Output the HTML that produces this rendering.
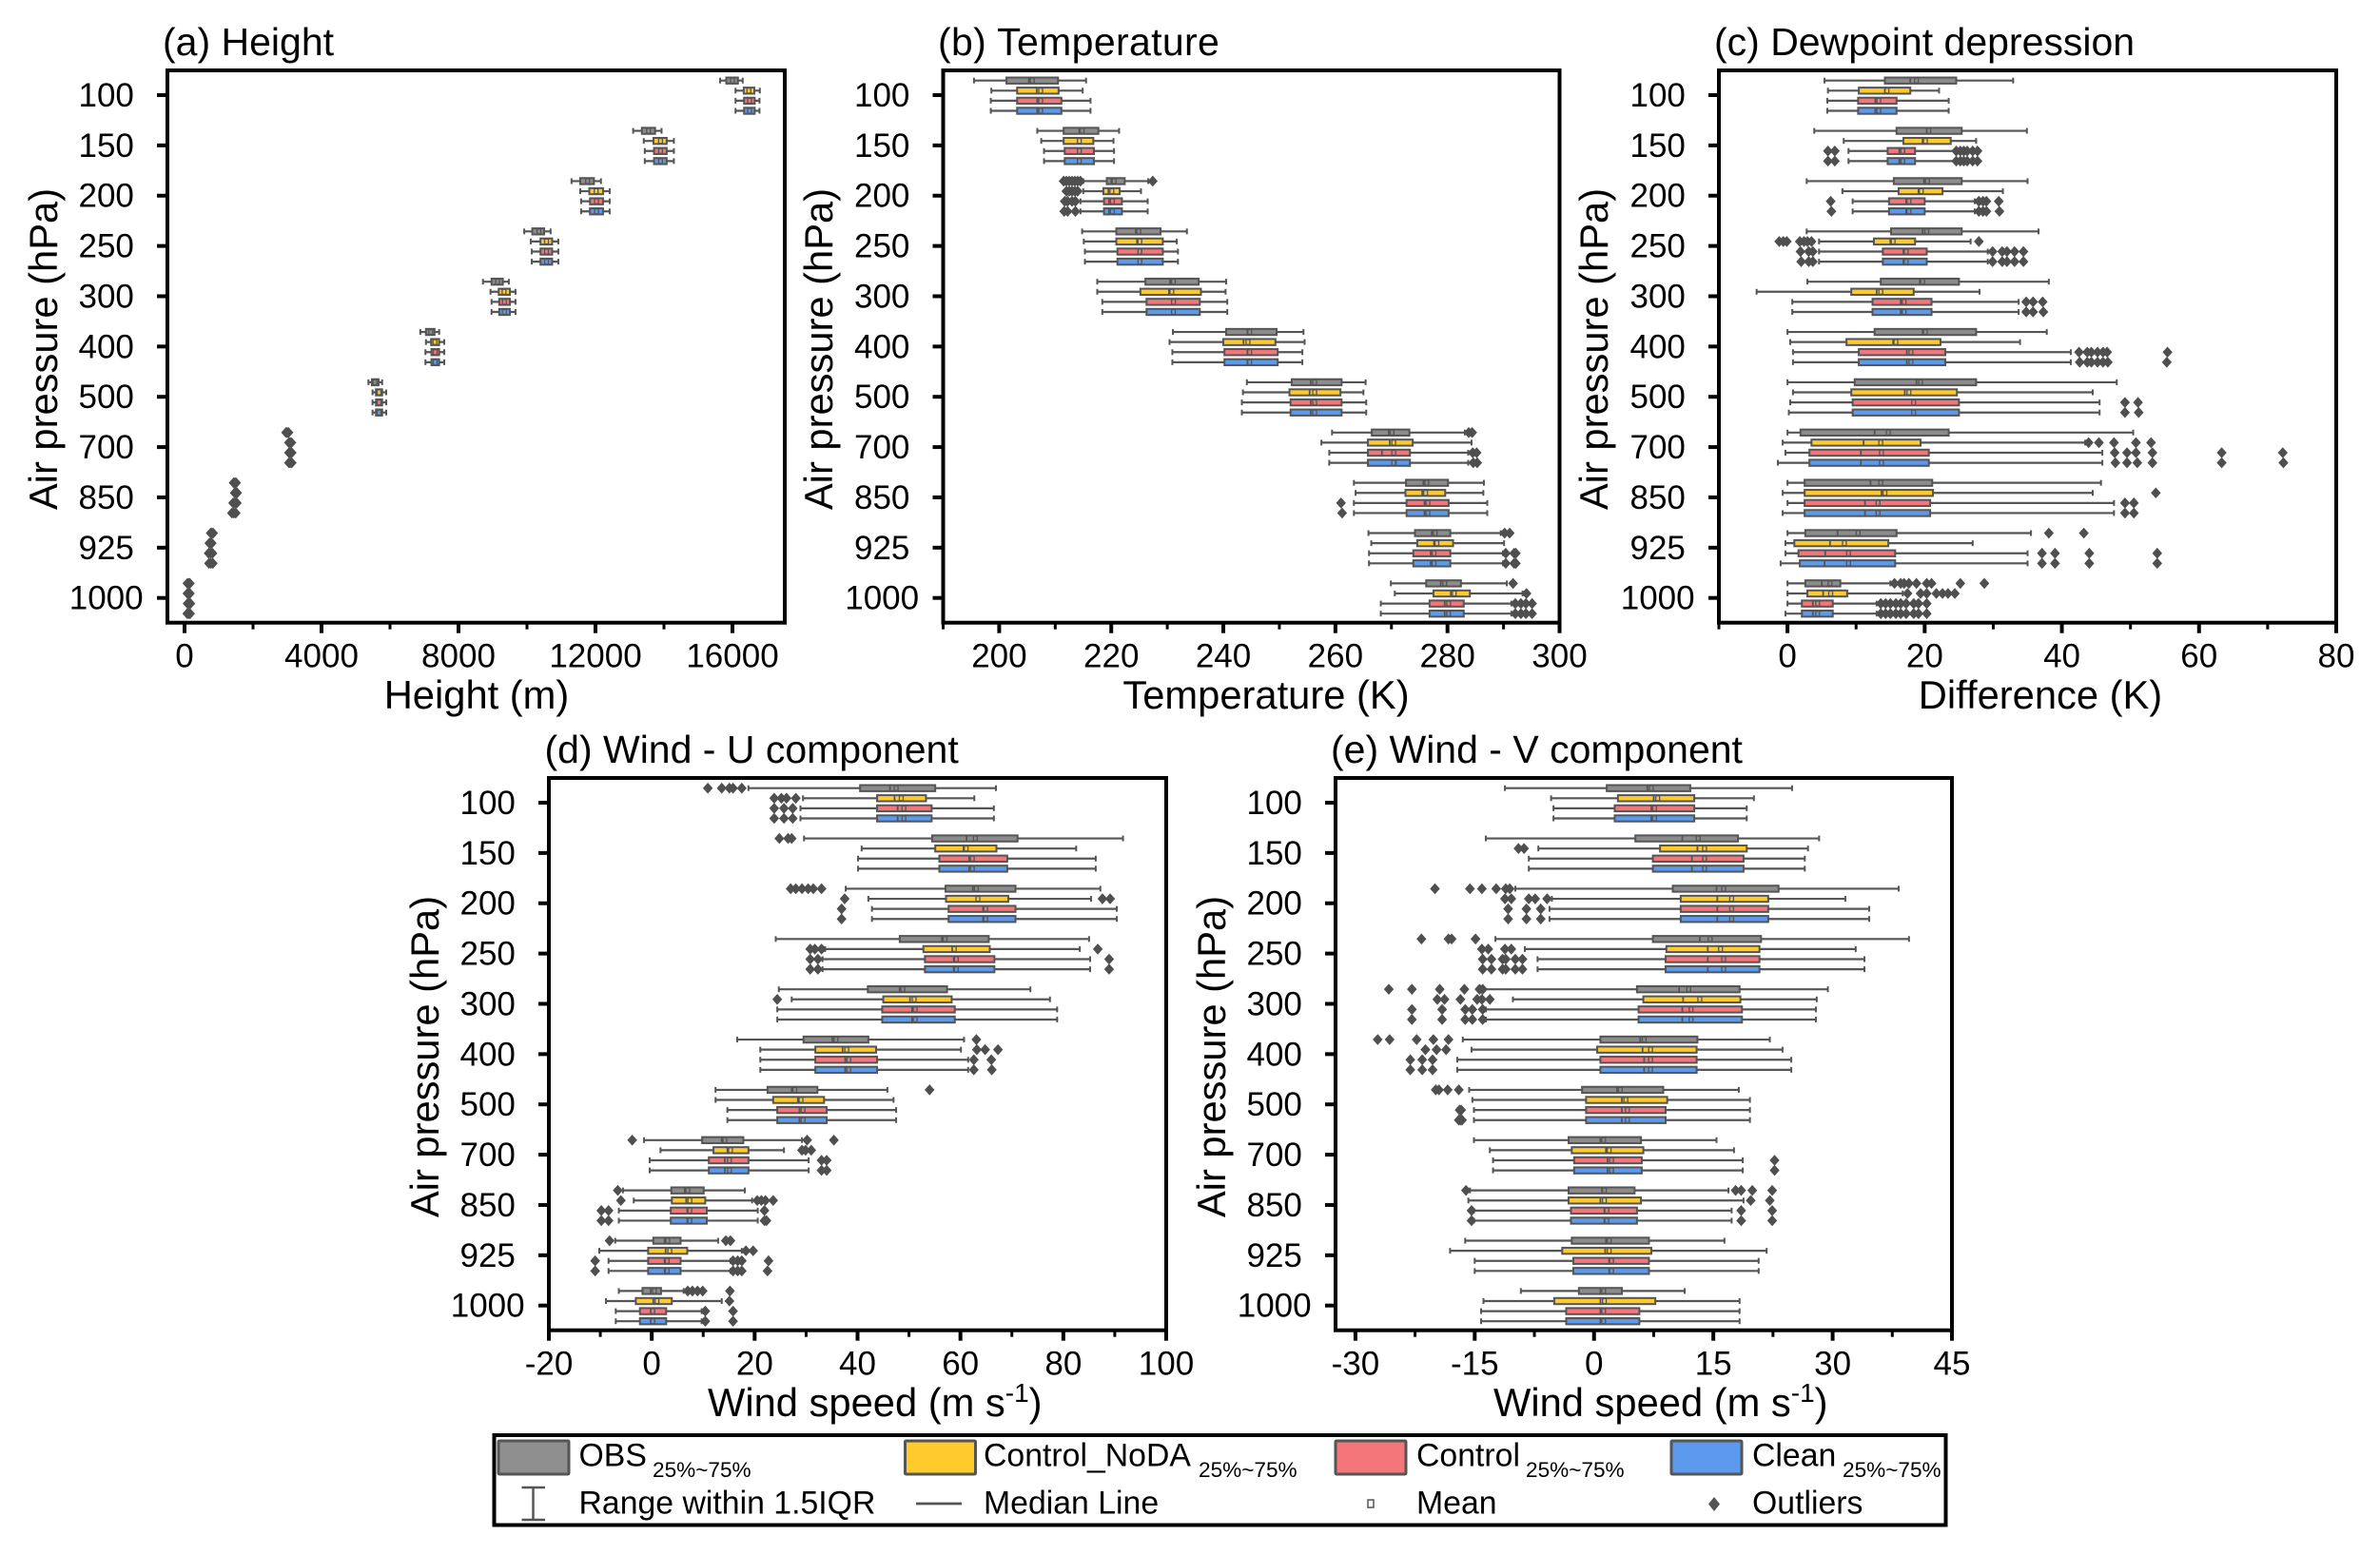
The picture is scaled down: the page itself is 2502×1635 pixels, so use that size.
<!DOCTYPE html>
<html lang="en">
<head>
<meta charset="utf-8">
<title>Sounding box plots</title>
<style>
html,body{margin:0;padding:0;background:#fff;width:2502px;height:1635px;overflow:hidden}
svg{display:block;font-family:"Liberation Sans",Arial,sans-serif;fill:#000}
.t{font-size:41px}
.a{font-size:41.7px}
.l{font-size:33.8px}
.s{font-size:22.6px}
</style>
</head>
<body>
<svg id="chart" xmlns="http://www.w3.org/2000/svg" width="2502" height="1635" viewBox="0 0 2502 1635">
  <rect x="0" y="0" width="2502" height="1635" fill="#fff"/>
  <text class="t" x="171" y="58">(a) Height</text>
  <text class="t" x="986" y="58" letter-spacing="0.35">(b) Temperature</text>
  <text class="t" x="1802" y="58">(c) Dewpoint depression</text>
  <text class="t" x="572.5" y="802">(d) Wind - U component</text>
  <text class="t" x="1399" y="802">(e) Wind - V component</text>

  <text class="a" x="501" y="745" text-anchor="middle">Height (m)</text>
  <text class="a" x="1331" y="745" text-anchor="middle">Temperature (K)</text>
  <text class="a" x="2145" y="745" text-anchor="middle">Difference (K)</text>
  <text class="a" x="744" y="1489">Wind speed (m s<tspan font-size="28" dy="-15">-1</tspan><tspan dy="15">)</tspan></text>
  <text class="a" x="1570" y="1489">Wind speed (m s<tspan font-size="28" dy="-15">-1</tspan><tspan dy="15">)</tspan></text>

  <text class="a" text-anchor="middle" transform="translate(60,367) rotate(-90)">Air pressure (hPa)</text>
  <text class="a" text-anchor="middle" transform="translate(875,367) rotate(-90)">Air pressure (hPa)</text>
  <text class="a" text-anchor="middle" transform="translate(1690,367) rotate(-90)">Air pressure (hPa)</text>
  <text class="a" text-anchor="middle" transform="translate(461,1111) rotate(-90)">Air pressure (hPa)</text>
  <text class="a" text-anchor="middle" transform="translate(1288,1111) rotate(-90)">Air pressure (hPa)</text>

  <g id="panels"></g>

  <g>
    <rect x="519.5" y="1509" width="1526" height="94.5" fill="#fff" stroke="#000" stroke-width="4"/>
    <rect x="524" y="1515" width="74" height="35" rx="1" fill="#8f8f8f" stroke="#555" stroke-width="3"/>
    <text class="l" x="608.5" y="1541.5">OBS</text>
    <text class="s" x="686" y="1553">25%~75%</text>
    <rect x="951.5" y="1515" width="74" height="35" rx="1" fill="#ffca2c" stroke="#555" stroke-width="3"/>
    <text class="l" x="1034" y="1541.5">Control_NoDA</text>
    <text class="s" x="1260" y="1553">25%~75%</text>
    <rect x="1404" y="1515" width="74" height="35" rx="1" fill="#f5767a" stroke="#555" stroke-width="3"/>
    <text class="l" x="1489" y="1541.5">Control</text>
    <text class="s" x="1604" y="1553">25%~75%</text>
    <rect x="1757" y="1515" width="74" height="35" rx="1" fill="#5b9aec" stroke="#555" stroke-width="3"/>
    <text class="l" x="1842" y="1541.5">Clean</text>
    <text class="s" x="1937" y="1553">25%~75%</text>
    <g stroke="#555" fill="none">
      <line x1="560.5" x2="560.5" y1="1564" y2="1598" stroke-width="2.5"/>
      <line x1="548.5" x2="573" y1="1564" y2="1564" stroke-width="2.5"/>
      <line x1="548.5" x2="573" y1="1598" y2="1598" stroke-width="2.5"/>
    </g>
    <text class="l" x="608.5" y="1591.5">Range within 1.5IQR</text>
    <line x1="963" x2="1011" y1="1581" y2="1581" stroke="#555" stroke-width="2.8"/>
    <text class="l" x="1034" y="1591.5">Median Line</text>
    <rect x="1438" y="1577" width="6" height="8" fill="#fff" stroke="#555" stroke-width="1.5"/>
    <text class="l" x="1489" y="1591.5">Mean</text>
    <polygon points="1802,1574 1808,1581.5 1802,1589 1796,1581.5" fill="#555"/>
    <text class="l" x="1842" y="1591.5">Outliers</text>
  </g>
</svg>

<script>
// Row format: [low whisker, Q1, median, mean, Q3, high whisker, ...outliers]
const pressureLevels = [100, 150, 200, 250, 300, 400, 500, 700, 850, 925, 1000];
const seriesKeys = ['obs', 'control-noda', 'control', 'clean'];

const heightTicks = [0, 4000, 8000, 12000, 16000];
const heightMinorTicks = [2000, 6000, 10000, 14000];
const temperatureTicks = [200, 220, 240, 260, 280, 300];
const temperatureMinorTicks = [190, 210, 230, 250, 270, 290];
const dewpointTicks = [0, 20, 40, 60, 80];
const dewpointMinorTicks = [-10, 10, 30, 50, 70];
const windUTicks = [-20, 0, 20, 40, 60, 80, 100];
const windUMinorTicks = [-10, 10, 30, 50, 70, 90];
const windVTicks = [-30, -15, 0, 15, 30, 45];
const windVMinorTicks = [-22.5, -7.5, 7.5, 22.5, 37.5];

const heightObs = [
[15640,15820,15985,16000,16160,16300],[13100,13355,13540,13550,13740,13930],[11300,11555,11760,11770,11955,12160],
[9920,10155,10340,10350,10500,10690],[8715,8965,9130,9140,9295,9470],[6885,7050,7180,7190,7300,7435],
[5370,5470,5560,5560,5665,5770],[2975,2990,3000,3005,3015,3025,2965,3000,3035],[1445,1460,1470,1475,1485,1495,1435,1470,1505],
[775,790,800,805,815,825,765,800,835],[95,110,120,125,135,145,85,120,155]];
const heightNoda = [
[16090,16330,16490,16480,16640,16800],[13410,13695,13880,13900,14080,14290],[11555,11820,12020,12020,12220,12415],
[10110,10395,10560,10570,10735,10915],[8935,9175,9330,9330,9500,9665],[7050,7200,7310,7310,7435,7585],
[5490,5590,5680,5680,5770,5890],[3060,3075,3085,3090,3100,3110,3050,3085,3120],[1475,1490,1500,1505,1515,1525,1465,1500,1535],
[735,750,760,765,775,785,725,760,795],[95,110,120,125,135,145,85,120,155]];
const heightControl = [
[16090,16340,16500,16500,16650,16790],[13440,13710,13890,13900,14080,14290],[11580,11840,12030,12030,12220,12415],
[10140,10395,10570,10570,10735,10915],[8965,9190,9340,9340,9500,9665],[7035,7210,7320,7320,7435,7585],
[5490,5590,5680,5680,5770,5890],[3065,3080,3090,3095,3105,3115,3050,3090,3130],[1440,1460,1470,1475,1490,1505,1420,1470,1525],
[725,745,760,765,780,795,705,760,815],[105,120,130,135,145,155,90,130,170]];
const heightClean = [
[16090,16340,16500,16500,16650,16790],[13440,13710,13890,13900,14080,14290],[11580,11840,12030,12030,12220,12415],
[10140,10395,10570,10570,10735,10915],[8965,9190,9340,9340,9500,9665],[7035,7210,7320,7320,7435,7585],
[5490,5590,5680,5680,5770,5890],[3065,3080,3090,3095,3105,3115,3050,3090,3130],[1405,1425,1440,1445,1460,1475,1385,1440,1495],
[735,755,770,775,790,805,715,770,825],[95,110,120,125,135,145,80,120,160]];

const temperatureObs = [
[195.5,201.3,205.3,205.9,210.5,215.5],[206.8,211.5,214.3,214.8,217.7,221.4],[215,219.2,220,220.5,222.4,226.6,211.5,212,212.5,213,213.5,214,214.5,227.4],
[214.8,220.9,224.4,224.9,228.8,233.5],[217.5,226.1,230.5,231.1,235.6,240.5],[231,240.5,244.3,244.7,249.5,254.3],
[244.2,252.2,255.6,256.3,261.1,265.4],[259.4,266.5,269.5,270.1,273.2,283.1,283.8,284.4],[263.3,272.6,275.7,276.3,280.1,286.5],
[265.9,274.2,277.2,277.8,280.5,289.5,290.2,291.1],[269.9,276.2,278.8,279.5,282.4,290.6,291.7]];
const temperatureNoda = [
[198.6,203.2,206.7,207.4,210.6,214.9],[207.5,211.5,214,214.3,216.8,220.4],[215,218.6,219.5,220.1,221.5,225.3,212,212.5,213,213.5,214],
[215.1,220.9,224.6,225.1,229.2,231.7],[217.5,225.2,230.3,230.8,236,240.4],[230.4,240,243.6,244.4,249.3,254.5],
[243.5,251.8,255.4,256.3,260.9,265],[257.5,265.8,269.7,270.4,273.8,284.3],[263.6,272.5,275.5,276.1,279.6,286.4],
[266.4,274.6,277.6,278.1,281,290.1],[270.6,277.5,280.6,281.2,284,293.4,294.1]];
const temperatureControl = [
[198.5,203.2,206.8,207.4,211.1,216.3],[208,211.7,214,214.3,216.9,220.5],[214.5,218.7,219.6,220.2,221.9,226.5,211.7,212.2,213,213.6],
[215.3,221.1,224.9,225.1,229.2,231.9],[218.4,226.3,230.8,231.1,235.8,240.7],[230.9,240.2,244.3,244.7,249.7,254.1],
[243.3,252,255.6,256.3,261.1,265.5],[258.9,265.8,268.3,270.4,273.3,283.7,284.5,285.2],[263.3,272.7,275.9,276.5,280.2,287.1,261],
[266,273.9,277,277.6,280.5,289.9,290.4,291.9,292.2],[268.1,276.8,279.5,280.2,282.9,291.4,292.1,293.1,294,295.1]];
const temperatureClean = [
[198.5,203.2,206.8,207.4,211.1,216.3],[208,211.7,214,214.3,216.9,220.5],[214.5,218.7,219.6,220.2,221.9,226.5,211.6,212.2,213.6],
[215.3,221.1,224.9,225.1,229.2,231.9],[218.4,226.3,230.8,231.1,235.8,240.7],[230.9,240.2,244.3,244.7,249.7,254.1],
[243.3,252,255.6,256.3,261.1,265.5],[258.9,265.8,270.8,270.4,273.3,283.7,284.6,285.3],[263.3,272.7,275.9,276.5,280.2,287.1,261.2],
[266,273.9,277,277.6,280.5,289.9,290.4,291.9,292.2],[268.1,276.8,279.5,280.2,282.9,291.4,292.1,293.1,294,295.1]];

const dewpointObs = [
[5.4,14.2,17.9,18.8,24.6,32.9],[3.9,15.9,20.3,20.6,25.4,34.9],[2.8,15.5,19.9,20.4,25.4,35],
[2.8,15.1,19.7,20.3,25.4,36.6],[2.9,13.6,19.3,19.7,25,38.1],[0,12.7,19.7,20.1,27.5,37.8],
[0,9.8,18.8,19.4,27.5,48],[0,1.9,12.7,14.7,23.5,50.4],[0,2.5,12.1,13.6,21.1,45.7],
[0,2.6,7.3,10.3,15.9,35.5,38.1,43.2],[0,2.6,5,6.2,7.7,15,15.6,16.5,17,17.7,18.8,20.3,21,25.2,28.7]];
const dewpointNoda = [
[5.9,10.4,14.2,14.5,17.9,22.1],[8.2,16.9,19.7,20.1,23.8,27.5],[8,16.2,19.1,19.5,22.6,31.4],
[4.6,12.6,15,15.4,18.6,26.7,-1.2,-0.6,-0.1,1.8,2.4,2.9,3.5,27.9],[-4.5,9.3,13,13.6,18.4,28],[0.4,8.6,15.4,15.8,22.3,33.9],
[0.8,9.3,17.1,17.7,24.7,44.5],[-0.7,3.5,11.1,13.6,19.4,43.4,43.9,45.4,47.6,50.8,53],[-0.7,2.5,13.7,14.2,21.2,44.5,53.7],
[-0.3,1,6.2,8.3,14.7,27],[0,2.9,5.2,6.3,8.7,16.8,17.5,19.4,20.3,21.7,22.6,23.4,24.4]];
const dewpointControl = [
[5.8,10.3,12.8,13.3,15.9,23.5],[8.9,14.6,16.3,16.8,18.6,24.4,5.9,6.9,24.6,25.2,25.7,26.2,27,27.7],[9.5,14.8,17.3,17.7,20,27.3,6.3,27.9,28.5,29,30.8],
[4.6,13.9,16.9,17.3,20.3,29.2,1.9,3.1,3.7,29.9,31.3,32,33.1,34.4],[0.7,12.4,16.5,17,21,33.7,34.8,35.8,37.2],[0.8,10.4,17.4,18,23,41.3,42.5,43.7,44.3,45.2,46,46.6,55.4],
[0.4,9.5,18.2,18.4,25,45.5,49.2,51.1],[-0.3,3.2,10.7,13.7,20.6,45.9,47.7,49.5,50.8,53.2,63.3,72.2],[0,2.5,11.3,13.2,20.8,47.6,49.2,50.5],
[-0.3,1.6,5.5,8.9,15.7,35,37.1,39,44,53.9],[0,2.1,3.7,4.4,6.6,13,13.6,14.3,15,15.8,16.5,17.3,18.4,19.1,20.3]];
const dewpointClean = [
[5.8,10.3,12.8,13.3,15.9,23.5],[8.9,14.6,16.3,16.8,18.6,24.4,5.9,6.9,24.6,25.2,25.7,26.2,27,27.7],[9.5,14.8,17.3,17.7,20,27.3,6.4,27.9,28.5,29,30.9],
[4.6,13.9,16.9,17.3,20.3,29.2,2,3.1,3.7,29.9,31.3,32,33.1,34.4],[0.7,12.4,16.5,17,21,33.7,34.8,35.8,37.3],[0.8,10.4,17.4,18,23,41.3,42.6,43.7,44.3,45.2,46,46.7,55.3],
[0.2,9.5,18.2,18.4,25,45.5,49.2,51.2],[-1.4,3.2,10.7,13.7,20.6,45.9,47.8,49.5,51,53.2,63.3,72.3],[-0.7,2.5,11.3,13.2,20.8,47.6,49.2,50.5],
[-1,1.8,5.4,8.9,15.7,35,37.1,39,44,53.9],[-0.3,2.1,3.7,4.4,6.6,13,13.6,14.3,15,15.8,16.5,17.3,18.4,19.1,20.3]];

const windUObs = [
[18.8,40.5,46.3,47.5,55.1,66.9,10.9,13.6,15.1,15.8,17.5],[29.6,54.5,61.2,62.9,71.1,91.6,24.8,26.5,27.2],[37.7,57.1,62.4,63.1,70.7,87.2,27,28,29.2,30.4,31.4,33],
[24.1,48.2,56.4,57,65.5,85],[24.7,42,48.2,48.8,57.4,73.6],[16.6,29.5,35.1,35.8,42.1,60.7,63.1],
[12.4,22.5,27.2,27.8,32.2,45.8,54],[-1.5,9.8,13.6,14.2,17.8,29.2,-3.8,30.2,35.4],[-5.6,3.8,6.4,7,10.1,18.1,-6.6],
[-7.1,0.3,2.5,3.1,5.6,12.9,-8.2,14.4,15.3],[-6.4,-1.8,-0.2,0.5,1.8,6.2,7,7.9,8.9,9.9,15.2]];
const windUNoda = [
[29.4,43.8,47.2,48.5,53.3,62.7,23.8,25.2,26.2,28],[40.8,55.1,60.6,61.1,67,82.5],[42.1,57.2,63.1,63.4,69.3,85.4,37.5,87.6,89.1],
[33.7,52.8,58.4,58.8,65.7,83.2,30.8,31.7,33,86.7],[27.2,45,50.2,51,58.3,77.4,24.4],[21.1,31.8,37.1,37.9,43.6,60.1,63.2,64.8,67.3],
[12.4,23.6,28.4,29,33.5,47],[1.7,12,14.7,15.3,18.8,25.7,29.2,29.9,31],[-3.5,3.9,6.7,7.4,10.4,19.5,-6,20.5,21.3,22.1,23.6],
[-10.2,-0.7,2.7,3.5,6.9,17.5,18.3,19.7],[-8.9,-3.1,0.3,1,3.9,13.6,15.1]];
const windUControl = [
[28.9,43.8,47.8,49,54.4,66.5,23.8,25.7,27.4],[40.1,55.9,61.7,62.3,69.1,86.3],[42.8,57.7,64.4,64.9,70.7,90.4,36.9],
[33.2,53.1,58.7,59.2,66.6,85.2,30.8,32.3,88.9],[24.4,44.8,50.6,51.2,58.9,78.8],[21.1,31.8,37.6,38.3,43.8,61.5,62.6,66],
[14.7,24.4,28.7,29.4,34,47.5],[-0.4,11.1,14.2,15.1,18.8,30.5,33,34],[-6.4,3.7,6.9,7.4,10.7,20.6,-9.8,-8.4,21.9],
[-8.4,-0.7,2.5,3,5.6,15.3,-11,15.8,16.7,17.5,22.7],[-7,-2.3,-0.2,0.2,2.8,9.7,10.4,15.8]];
const windUClean = [
[28.9,43.8,47.8,49,54.4,66.5,23.8,25.7,27.4],[40.1,55.9,61.7,62.3,69.1,86.3],[42.8,57.7,64.4,64.9,70.7,90.4,36.9],
[33.2,53.1,58.7,59.2,66.6,85.2,30.8,32.3,88.9],[24.4,44.8,50.6,51.2,58.9,78.8],[21.1,31.8,37.6,38.3,43.8,61.5,62.6,66.1],
[14.7,24.4,28.7,29.4,34,47.5],[-0.4,11.1,14.2,15.1,18.8,30.5,33,34],[-6.4,3.7,6.9,7.4,10.7,20.6,-9.8,-8.4,21.9,22.3],
[-8.4,-0.7,2.5,3,5.6,15.3,-11,15.8,16.7,17.5,22.5],[-7,-2.3,-0.2,0.2,2.8,9.7,10.4,15.8]];

const windVObs = [
[-11.2,1.6,6.7,7.2,12.1,24.9],[-13.6,5.2,11.1,13.1,18.1,28.3],[-9.9,9.9,15.4,16.3,23.2,38.3,-20,-15.6,-14.1,-12.3,-11.1,-10.6],
[-12.4,7.4,13.3,14.6,21,39.6,-21.7,-18.3,-17.9,-14.9],[-13.8,5.4,10.7,11.9,18.3,29.4,-25.8,-22.9,-19.4,-16.3,-14.4,-14],[-16.5,0.8,5.8,6.3,13,22.1,-27.2,-25.7,-22.3,-20.2,-18.3],
[-15.7,-1.5,2.9,3.3,8.7,18.2,-19.9,-19.5,-18.4,-17],[-15.1,-3.2,0.8,1.2,5.9,15.4],[-15.6,-3.2,1,1.3,5.1,16.9,-16.1,17.8,18.5,19.9,22.4],
[-16.2,-2.8,1.5,1.9,6.9,16.4],[-9.2,-1.9,0.8,1.2,3.5,11.4]];
const windVNoda = [
[-5.4,3,7.5,8,12.6,20.1],[-7,8.3,13,13.9,19.2,26.9,-9.5,-8.8],[-5.3,10.9,15.5,17.3,21.9,31.6,-11.2,-10.4,-8.2,-7.4,-5.9],
[-8.7,9.1,14.3,15.9,20.8,32.9,-14.1,-13.3,-11.2,-10.4],[-10.2,6.2,11.2,13.3,18.4,28,-19.7,-18.8,-16.8,-14.7,-14.1,-13.1],[-15.4,0.4,6.1,7.1,12.9,23.7,-21.2,-19.8,-18.6],
[-15.3,-1,3.5,4,9.2,19.6],[-13.1,-2.8,1.5,1.9,6.2,17.6],[-15.8,-3.2,0.8,1.3,5.9,18.8,19.7,22.1],
[-18.1,-4,1.4,1.9,7.2,21.7],[-13.9,-5,0.8,1.3,7.7,18.3]];
const windVControl = [
[-5.1,2.6,7.2,7.6,12.6,19.2],[-8.2,7.4,12.3,13.9,18.8,26.5],[-5.6,10.9,15.5,17.3,21.9,34.6,-10.8,-8.5,-6.7],
[-7.1,9,14.3,16.3,20.8,34,-14,-12.9,-11.5,-11.1,-9.9,-9],[-13.6,5.6,11.1,12.2,18.6,27.9,-22.9,-19.1,-16.2,-15.3,-14],[-17.2,0.8,6.3,7.1,12.9,24.8,-23.1,-21.6,-20.3],
[-15.1,-1,3.5,4.2,9,19.6,-16.9,-16.7],[-12.7,-2.5,1.7,2.2,6,18.7,22.7],[-15.1,-2.9,1.3,1.6,5.4,17.3,-15.4,18.5,22.4],
[-15,-2.6,1.9,2.2,6.9,20.7],[-14.2,-3.5,0.8,1.2,5.7,18.3]];
const windVClean = [
[-5.1,2.6,7.2,7.6,12.6,19.2],[-8.2,7.4,12.3,13.9,18.8,26.5],[-5.6,10.9,15.5,17.3,21.9,34.6,-10.8,-8.5,-6.7],
[-7.1,9,14.3,16.3,20.8,34,-14,-12.9,-11.5,-11.1,-9.9,-9],[-13.6,5.6,11.1,12.2,18.6,27.9,-22.9,-19.1,-16.2,-15.3,-14],[-17.2,0.8,6.3,7.1,12.9,24.8,-23.1,-21.6,-20.3],
[-15.1,-1,3.5,4.2,9,19.6,-17,-16.8,-16.6],[-12.7,-2.5,1.7,2.2,6,18.7,22.7],[-15.1,-2.9,1.3,1.6,5.4,17.3,-15.4,18.5,22.4],
[-15,-2.6,1.9,2.2,6.9,20.7],[-14.2,-3.5,0.8,1.2,5.7,18.3]];

const seriesFills = ['#8c8c8c', '#ffca2c', '#f5767a', '#5b9aec'];
const rowOffsets = [-15.3, -4.7, 5.9, 16.5];
const INK = '#555';
const NS = 'http://www.w3.org/2000/svg';
const root = document.getElementById('panels');

function node(parent, tag, name, attrs) {
  const el = document.createElementNS(NS, tag);
  
  
  for (const k in attrs) el.setAttribute(k, attrs[k]);
  parent.appendChild(el);
  return el;
}

function drawPanel(p) {
  const g = node(root, 'g', 'panel-' + p.id, {});
  const xOf = v => p.left + (v - p.min) * (p.right - p.left) / (p.max - p.min);
  const yOf = i => p.firstTick + i * 52.87;

  p.series.forEach((rows, s) => {
    rows.forEach((r, i) => {
      const key = p.id + '-' + pressureLevels[i] + '-' + seriesKeys[s];
      const y = yOf(i) + rowOffsets[s];
      const box = node(g, 'g', 'box-' + key, {});
      node(box, 'line', 'whisker', { x1: xOf(r[0]), x2: xOf(r[5]), y1: y, y2: y, stroke: INK, 'stroke-width': 2.2 });
      node(box, 'line', 'whisker-cap-low', { x1: xOf(r[0]), x2: xOf(r[0]), y1: y - 3, y2: y + 3, stroke: INK, 'stroke-width': 2 });
      node(box, 'line', 'whisker-cap-high', { x1: xOf(r[5]), x2: xOf(r[5]), y1: y - 3, y2: y + 3, stroke: INK, 'stroke-width': 2 });
      node(box, 'rect', 'interquartile-box', {
        x: xOf(r[1]), y: y - 3.2, width: xOf(r[4]) - xOf(r[1]), height: 6.4,
        fill: seriesFills[s], stroke: INK, 'stroke-width': 2
      });
      node(box, 'line', 'median', { x1: xOf(r[2]), x2: xOf(r[2]), y1: y - 3.2, y2: y + 3.2, stroke: INK, 'stroke-width': 1.8 });
      node(box, 'rect', 'mean', {
        x: xOf(r[3]) - 2, y: y - 2.6, width: 4, height: 5.2,
        fill: seriesFills[s], stroke: INK, 'stroke-width': 1.3
      });
      r.slice(6).forEach(v => {
        const cx = xOf(v);
        node(box, 'polygon', 'outlier', {
          points: `${cx},${y - 5.8} ${cx + 5.2},${y} ${cx},${y + 5.8} ${cx - 5.2},${y}`,
          fill: '#4f4f4f'
        });
      });
    });
  });

  node(g, 'rect', 'plot-frame', {
    x: p.left, y: p.top, width: p.right - p.left, height: p.bottom - p.top,
    fill: 'none', stroke: '#000', 'stroke-width': 4
  });

  pressureLevels.forEach((lv, i) => {
    const y = yOf(i);
    node(g, 'line', 'y-tick-' + lv, { x1: p.left - 11, x2: p.left, y1: y, y2: y, stroke: '#000', 'stroke-width': 4 });
    const t = node(g, 'text', 'y-tick-label-' + lv, { x: p.left - 64.3, y: y + 12, 'text-anchor': 'middle', 'font-size': 35 });
    t.textContent = lv;
  });

  p.ticks.forEach(v => {
    const x = xOf(v);
    node(g, 'line', 'x-tick-' + v, { x1: x, x2: x, y1: p.bottom, y2: p.bottom + 11, stroke: '#000', 'stroke-width': 4 });
    const t = node(g, 'text', 'x-tick-label-' + v, { x: x, y: p.bottom + 47, 'text-anchor': 'middle', 'font-size': 35 });
    t.textContent = v;
  });
  p.minor.forEach(v => {
    const x = xOf(v);
    node(g, 'line', 'x-minor-tick-' + v, { x1: x, x2: x, y1: p.bottom, y2: p.bottom + 7, stroke: '#000', 'stroke-width': 3 });
  });
}

drawPanel({ id: 'a', left: 176, right: 825, top: 74, bottom: 654.7, firstTick: 100, min: -500, max: 17528,
  ticks: heightTicks, minor: heightMinorTicks, series: [heightObs, heightNoda, heightControl, heightClean] });
drawPanel({ id: 'b', left: 991.5, right: 1639.5, top: 74, bottom: 654.7, firstTick: 100, min: 190, max: 300,
  ticks: temperatureTicks, minor: temperatureMinorTicks, series: [temperatureObs, temperatureNoda, temperatureControl, temperatureClean] });
drawPanel({ id: 'c', left: 1807, right: 2456, top: 74, bottom: 654.7, firstTick: 100, min: -10, max: 80,
  ticks: dewpointTicks, minor: dewpointMinorTicks, series: [dewpointObs, dewpointNoda, dewpointControl, dewpointClean] });
drawPanel({ id: 'd', left: 577, right: 1226, top: 818, bottom: 1398.7, firstTick: 844, min: -20, max: 100,
  ticks: windUTicks, minor: windUMinorTicks, series: [windUObs, windUNoda, windUControl, windUClean] });
drawPanel({ id: 'e', left: 1404, right: 2052, top: 818, bottom: 1398.7, firstTick: 844, min: -32.5, max: 45,
  ticks: windVTicks, minor: windVMinorTicks, series: [windVObs, windVNoda, windVControl, windVClean] });
</script>
</body>
</html>
